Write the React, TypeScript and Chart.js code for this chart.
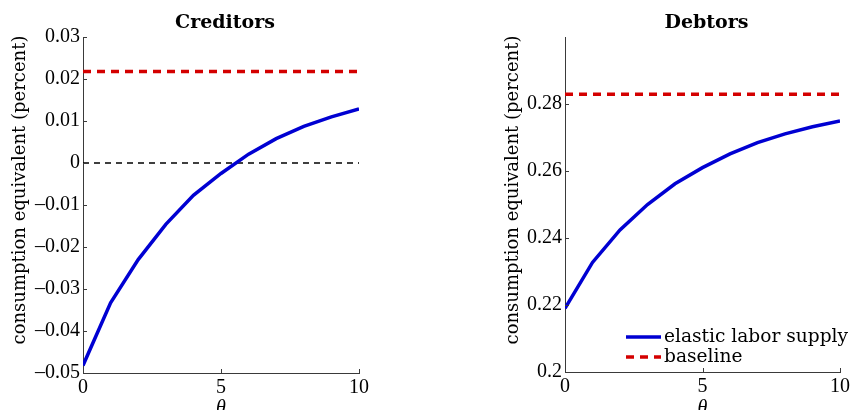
import React, { useEffect, useRef } from 'react';
import { Chart, registerables } from 'chart.js';

Chart.register(...registerables);

// ---- data ----
const theta = [0, 1, 2, 3, 4, 5, 6, 7, 8, 9, 10];
const xTicks = [0, 5, 10];

const creditorsElastic = [-0.0482, -0.0333, -0.023, -0.0146, -0.0077, -0.0025, 0.0021, 0.0058, 0.0087, 0.011, 0.0129];
const creditorsBaseline = [0.0218, 0.0218, 0.0218, 0.0218, 0.0218, 0.0218, 0.0218, 0.0218, 0.0218, 0.0218, 0.0218];
const creditorsZero = [0, 0, 0, 0, 0, 0, 0, 0, 0, 0, 0];
const creditorsYTicks = [-0.05, -0.04, -0.03, -0.02, -0.01, 0, 0.01, 0.02, 0.03];

const debtorsElastic = [0.219, 0.2327, 0.2424, 0.25, 0.2562, 0.261, 0.2651, 0.2685, 0.2711, 0.2732, 0.2749];
const debtorsBaseline = [0.2829, 0.2829, 0.2829, 0.2829, 0.2829, 0.2829, 0.2829, 0.2829, 0.2829, 0.2829, 0.2829];
const debtorsYTicks = [0.2, 0.22, 0.24, 0.26, 0.28];

const seriesNames = ['elastic labor supply', 'baseline'];
const yLabel = 'consumption equivalent (percent)';
const xLabel = 'θ';

// ---- styles ----
const BLUE = '#0000d2';
const RED = '#d40000';
const AXIS = '#3a3a3a';
const TICK_FONT = { family: '"Liberation Serif", "Times New Roman", serif', size: 20 };
const LABEL_FONT = '18px "DejaVu Serif", serif';
const LEGEND_FONT = '18.6px "DejaVu Serif", serif';
const TITLE_FONT = 'bold 19px "DejaVu Serif", serif';

const fmt = (v: number) => String(Number(v.toFixed(2))).replace('-', '\u2013');

const toPts = (ys: number[]) => ys.map((y, i) => ({ x: theta[i], y }));

const inwardTicks = {
  id: 'inwardTicks',
  afterDraw(chart: any) {
    const { ctx, chartArea } = chart;
    const xs = chart.scales.x;
    const ys = chart.scales.y;
    ctx.save();
    ctx.strokeStyle = AXIS;
    ctx.lineWidth = 1;
    ctx.beginPath();
    xs.ticks.forEach((t: any) => {
      const px = Math.round(xs.getPixelForValue(t.value)) + 0.5;
      ctx.moveTo(px, chartArea.bottom);
      ctx.lineTo(px, chartArea.bottom - 4);
    });
    ys.ticks.forEach((t: any) => {
      const py = Math.round(ys.getPixelForValue(t.value)) + 0.5;
      ctx.moveTo(chartArea.left, py);
      ctx.lineTo(chartArea.left + 4, py);
    });
    ctx.stroke();
    ctx.restore();
  },
};

function textPlugin(title: string, yLabelX: number) {
  return {
    id: 'texts',
    afterDraw(chart: any) {
      const { ctx, chartArea } = chart;
      const cx = (chartArea.left + chartArea.right) / 2;
      ctx.save();
      ctx.fillStyle = '#000';
      ctx.textAlign = 'center';
      ctx.textBaseline = 'alphabetic';
      ctx.font = TITLE_FONT;
      ctx.fillText(title, cx + 4, 28);
      ctx.font = 'italic 20px "Liberation Serif", serif';
      ctx.fillText(xLabel, cx, 414);
      ctx.translate(yLabelX, 190);
      ctx.rotate(-Math.PI / 2);
      ctx.font = LABEL_FONT;
      ctx.textBaseline = 'middle';
      ctx.fillText(yLabel, 0, 0);
      ctx.restore();
    },
  };
}

const legendPlugin = {
  id: 'innerLegend',
  afterDraw(chart: any) {
    const { ctx, chartArea } = chart;
    const x0 = chartArea.left + 61;
    const rows = [chartArea.bottom - 35, chartArea.bottom - 15];
    chart.data.datasets.slice(0, 2).forEach((ds: any, i: number) => {
      const y = rows[i];
      ctx.save();
      ctx.strokeStyle = ds.borderColor;
      ctx.lineWidth = ds.borderWidth;
      ctx.setLineDash(ds.borderDash || []);
      ctx.beginPath();
      ctx.moveTo(x0, y);
      ctx.lineTo(x0 + 35, y);
      ctx.stroke();
      ctx.setLineDash([]);
      ctx.fillStyle = '#000';
      ctx.font = LEGEND_FONT;
      ctx.textAlign = 'left';
      ctx.textBaseline = 'middle';
      ctx.fillText(ds.label, x0 + 38, y);
      ctx.restore();
    });
  },
};

function makeOptions(yMin: number, yMax: number, yTicks: number[], yWidth: number, xHeight: number, padRight: number) {
  return {
    responsive: false,
    animation: false as const,
    layout: { padding: { left: 0, right: padRight, top: 37, bottom: 0 } },
    plugins: { legend: { display: false }, title: { display: false }, tooltip: { enabled: false } },
    elements: { point: { radius: 0 }, line: { tension: 0 } },
    scales: {
      x: {
        type: 'linear' as const,
        min: 0,
        max: 10,
        grid: { display: false, drawTicks: false },
        border: { display: true, color: AXIS, width: 1 },
        ticks: { font: TICK_FONT, color: '#000', padding: 3, maxRotation: 0, callback: (v: any) => fmt(v) },
        afterBuildTicks: (s: any) => { s.ticks = xTicks.map((v) => ({ value: v })); },
        afterFit: (s: any) => { s.height = xHeight; },
      },
      y: {
        type: 'linear' as const,
        min: yMin,
        max: yMax,
        grid: { display: false, drawTicks: false },
        border: { display: true, color: AXIS, width: 1 },
        ticks: { font: TICK_FONT, color: '#000', padding: 3, callback: (v: any) => fmt(v) },
        afterBuildTicks: (s: any) => { s.ticks = yTicks.map((v) => ({ value: v })); },
        afterFit: (s: any) => { s.width = yWidth; },
      },
    },
  };
}

function Panel(props: { which: 'c' | 'd'; left: number; width: number }) {
  const ref = useRef<HTMLCanvasElement | null>(null);
  useEffect(() => {
    if (!ref.current) return;
    let chart: Chart;
    if (props.which === 'c') {
      chart = new Chart(ref.current, {
        type: 'line',
        data: {
          datasets: [
            { label: seriesNames[0], data: toPts(creditorsElastic), borderColor: BLUE, borderWidth: 3.5, fill: false },
            { label: seriesNames[1], data: toPts(creditorsBaseline), borderColor: RED, borderWidth: 3.5, borderDash: [8, 6], fill: false },
            { label: 'zero', data: toPts(creditorsZero), borderColor: '#000', borderWidth: 1.5, borderDash: [6, 5], fill: false },
          ],
        },
        options: makeOptions(-0.05, 0.03, creditorsYTicks, 83, 37, 61) as any,
        plugins: [inwardTicks, textPlugin('Creditors', 20)],
      });
    } else {
      chart = new Chart(ref.current, {
        type: 'line',
        data: {
          datasets: [
            { label: seriesNames[0], data: toPts(debtorsElastic), borderColor: BLUE, borderWidth: 3.5, fill: false },
            { label: seriesNames[1], data: toPts(debtorsBaseline), borderColor: RED, borderWidth: 3.5, borderDash: [8, 6], fill: false },
          ],
        },
        options: makeOptions(0.2, 0.3, debtorsYTicks, 125, 38, 11) as any,
        plugins: [inwardTicks, textPlugin('Debtors', 73), legendPlugin],
      });
    }
    return () => chart.destroy();
  }, [props.which]);
  return (
    <canvas
      ref={ref}
      width={props.width}
      height={410}
      style={{ position: 'absolute', left: props.left, top: 0, width: props.width, height: 410 }}
    />
  );
}

export default function App() {
  return (
    <div style={{ position: 'absolute', left: 0, top: 0, width: 853, height: 410, background: '#fff', overflow: 'hidden' }}>
      <Panel which="c" left={0} width={420} />
      <Panel which="d" left={440} width={413} />
    </div>
  );
}
